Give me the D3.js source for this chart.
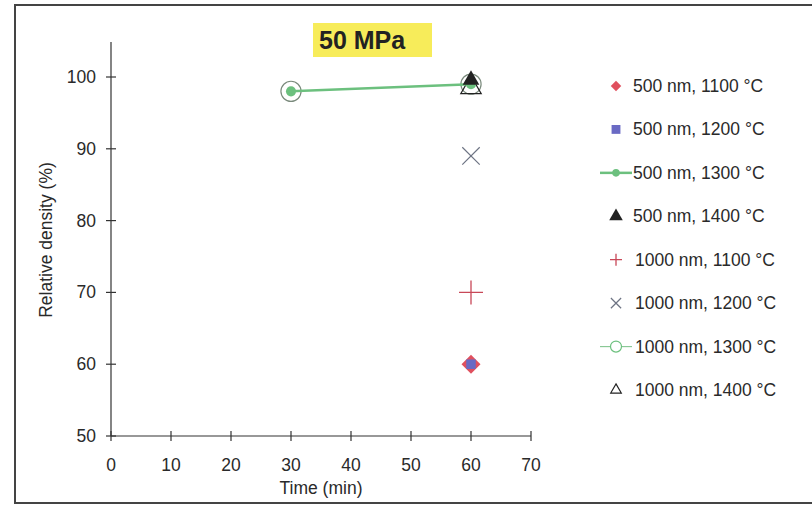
<!DOCTYPE html>
<html>
<head>
<meta charset="utf-8">
<script src="https://cdn.jsdelivr.net/npm/d3@7"></script>
<style>
  html, body { margin: 0; padding: 0; background: #fff; }
  svg { display: block; font-family: Arial, "Liberation Sans", sans-serif; }
</style>
</head>
<body>
<svg id="chart" width="812" height="505"></svg>
<script>
// Relative density vs. sintering time at 50 MPa
const title = "50 MPa";
const xTicks = [0, 10, 20, 30, 40, 50, 60, 70];
const yTicks = [50, 60, 70, 80, 90, 100];

const seriesNames = [
  "500 nm, 1100 °C", "500 nm, 1200 °C", "500 nm, 1300 °C", "500 nm, 1400 °C",
  "1000 nm, 1100 °C", "1000 nm, 1200 °C", "1000 nm, 1300 °C", "1000 nm, 1400 °C"
];
const times_500_1100 = [60];   const dens_500_1100 = [60];
const times_500_1200 = [60];   const dens_500_1200 = [60];
const times_500_1300 = [30, 60]; const dens_500_1300 = [98, 99];
const times_500_1400 = [60];   const dens_500_1400 = [99.6];
const times_1000_1100 = [60];  const dens_1000_1100 = [70];
const times_1000_1200 = [60];  const dens_1000_1200 = [89];
const times_1000_1300 = [30, 60]; const dens_1000_1300 = [98, 99];
const times_1000_1400 = [60];  const dens_1000_1400 = [98.5];

const svg = d3.select("#chart");
const FS = 17.5;
const textCol = "#2a2a2a";

// outer frame
svg.append("rect").attr("x", 15).attr("y", 5).attr("width", 805).attr("height", 498)
  .attr("fill", "none").attr("stroke", "#444").attr("stroke-width", 2);

const x = d3.scaleLinear().domain([0, 70]).range([111, 531]);
const y = d3.scaleLinear().domain([50, 100]).range([436, 77]);

// axes
const gx = svg.append("g").attr("transform", `translate(0,${y(50)})`);
gx.append("line").attr("x1", x(0)).attr("x2", x(70)).attr("stroke", "#333").attr("stroke-width", 1.2);
gx.selectAll("line.t").data(xTicks).join("line").attr("class", "t")
  .attr("x1", d => x(d)).attr("x2", d => x(d)).attr("y1", -5).attr("y2", 5)
  .attr("stroke", "#333").attr("stroke-width", 1.2);
gx.selectAll("text").data(xTicks).join("text")
  .attr("x", d => x(d)).attr("y", 35).attr("text-anchor", "middle")
  .attr("font-size", FS).attr("fill", textCol).text(d => d);
svg.append("text").attr("x", 321).attr("y", 494).attr("text-anchor", "middle")
  .attr("font-size", FS).attr("fill", textCol).text("Time (min)");

const gy = svg.append("g").attr("transform", `translate(${x(0)},0)`);
gy.append("line").attr("y1", 42).attr("y2", y(50)).attr("stroke", "#333").attr("stroke-width", 1.2);
gy.selectAll("line.t").data(yTicks).join("line").attr("class", "t")
  .attr("y1", d => y(d)).attr("y2", d => y(d)).attr("x1", -5).attr("x2", 5)
  .attr("stroke", "#333").attr("stroke-width", 1.2);
gy.selectAll("text").data(yTicks).join("text")
  .attr("x", -15).attr("y", d => y(d) + 6).attr("text-anchor", "end")
  .attr("font-size", FS).attr("fill", textCol).text(d => d);
svg.append("text").attr("transform", `translate(52,240) rotate(-90)`)
  .attr("text-anchor", "middle").attr("font-size", FS).attr("fill", textCol)
  .text("Relative density (%)");

// title box
svg.append("rect").attr("x", 313).attr("y", 23).attr("width", 119).attr("height", 34).attr("fill", "#f7ec5a");
svg.append("text").attr("x", 319).attr("y", 49).attr("font-size", 25).attr("font-weight", "bold")
  .attr("fill", "#222").text(title);

// marker styles
const styles = [
  { type: d3.symbolDiamond2, size: 230, fill: "#e0505e", stroke: "none", line: null },
  { type: d3.symbolSquare2, size: 115, fill: "#6a6ac4", stroke: "none", line: null },
  { type: d3.symbolCircle, size: 80, fill: "#6cc07e", stroke: "none", line: "#6cc07e" },
  { type: d3.symbolTriangle, size: 120, fill: "#222", stroke: "none", line: null },
  { type: d3.symbolPlus, size: 200, fill: "none", stroke: "#c84858", line: null, plus: true },
  { type: d3.symbolTimes, size: 200, fill: "none", stroke: "#6e7484", line: null },
  { type: d3.symbolCircle, size: 320, fill: "none", stroke: "#7a8a7c", line: null },
  { type: d3.symbolTriangle2, size: 300, fill: "none", stroke: "#222", line: null }
];
const legendSizes = [70, 100, 45, 80, 0, 70, 0, 80];
const allSeries = [
  [times_500_1100, dens_500_1100], [times_500_1200, dens_500_1200],
  [times_500_1300, dens_500_1300], [times_500_1400, dens_500_1400],
  [times_1000_1100, dens_1000_1100], [times_1000_1200, dens_1000_1200],
  [times_1000_1300, dens_1000_1300], [times_1000_1400, dens_1000_1400]
];

function plusPath(s) {
  return `M${-s},0H${s}M0,${-s}V${s}`;
}
function drawMarker(g, i, cx, cy, legend) {
  const st = styles[i];
  if (st.plus) {
    g.append("path").attr("d", plusPath(legend ? 6 : 12)).attr("transform", `translate(${cx},${cy})`)
      .attr("fill", "none").attr("stroke", st.stroke).attr("stroke-width", 1.3);
    return;
  }
  const size = legend ? legendSizes[i] : st.size;
  g.append("path").attr("d", d3.symbol().type(st.type).size(size)())
    .attr("transform", `translate(${cx},${cy})`)
    .attr("fill", st.fill).attr("stroke", st.stroke === "none" ? null : st.stroke)
    .attr("stroke-width", 1.2);
}

// draw order: open markers underneath, filled ones on top
const plot = svg.append("g");
const order = [6, 7, 2, 3, 4, 5, 0, 1];
order.forEach(i => {
  const st = styles[i];
  const [ts, ds] = allSeries[i];
  if (st.line) {
    plot.append("path").datum(ts.map((t, k) => [t, ds[k]]))
      .attr("d", d3.line().x(d => x(d[0])).y(d => y(d[1])))
      .attr("fill", "none").attr("stroke", st.line).attr("stroke-width", 2.5);
  }
  ts.forEach((t, k) => drawMarker(plot, i, x(t), y(ds[k]), false));
});

// legend
const legendY = d3.scaleLinear().domain([0, 7]).range([86, 390]);
const leg = svg.append("g");
seriesNames.forEach((name, i) => {
  const ly = legendY(i);
  if (i === 2 || i === 6) {
    leg.append("line").attr("x1", 600).attr("x2", 632).attr("y1", ly).attr("y2", ly)
      .attr("stroke", i === 2 ? "#6cc07e" : "#8ac896").attr("stroke-width", i === 2 ? 2.5 : 1.2);
  }
  if (i === 6) {
    leg.append("circle").attr("cx", 616).attr("cy", ly).attr("r", 5.5)
      .attr("fill", "#fff").attr("stroke", "#6cc07e").attr("stroke-width", 1.2);
  } else {
    drawMarker(leg, i, 616, ly, true);
  }
  leg.append("text").attr("x", i >= 4 ? 635 : 633).attr("y", ly + 6).attr("font-size", FS)
    .attr("fill", textCol).text(name);
});
</script>
</body>
</html>
